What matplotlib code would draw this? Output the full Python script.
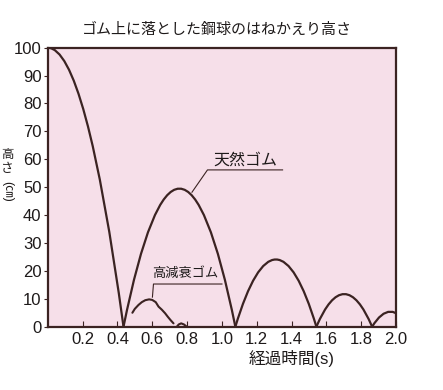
import numpy as np
import matplotlib.pyplot as plt
from matplotlib.path import Path
from matplotlib.patches import PathPatch

plt.rcParams['font.family'] = ['Liberation Sans', 'Noto Sans CJK JP', 'DejaVu Sans']

# natural rubber: drop from 100 cm, then bounces
drop_height = 100
nat_land = [0.435, 1.077, 1.542, 1.862, 2.072]   # landing times (s)
nat_peak = [49.5, 24.1, 11.7, 5.4]               # bounce heights (cm)

# high damping rubber (only a short bounce)
damp_t = [0.486, 0.50, 0.521, 0.54, 0.56, 0.582, 0.60, 0.62, 0.636, 0.655, 0.674, 0.69, 0.706, 0.722]
damp_h = [5.0, 6.4, 7.8, 8.8, 9.5, 9.8, 9.6, 8.8, 7.2, 6.1, 4.8, 3.5, 2.3, 1.2]
bump_t = [0.741, 0.752, 0.766, 0.782, 0.798]
bump_h = [0.0, 0.8, 1.2, 0.8, 0.0]

xticks = [0.2, 0.4, 0.6, 0.8, 1.0, 1.2, 1.4, 1.6, 1.8, 2.0]
yticks = list(range(0, 101, 10))

line_c = '#3b2322'
txt_c = '#1e1a1a'
bg = '#f6dfe9'

fig = plt.figure(figsize=(4.43, 3.90), dpi=100)
ax = fig.add_axes([0.1077, 0.1623, 0.7866, 0.7154])
ax.set_facecolor(bg)


def arc(ax, a, b, h=None, half=False):
    # quadratic bezier = parabola
    if half:
        verts = [(0, h), (b / 2, h), (b, 0)]
    else:
        verts = [(a, 0), ((a + b) / 2, 2 * h), (b, 0)]
    p = PathPatch(Path(verts, [Path.MOVETO, Path.CURVE3, Path.CURVE3]),
                  fill=False, ec=line_c, lw=1.6, transform=ax.transData,
                  clip_on=True, capstyle='round')
    ax.add_patch(p)


arc(ax, 0, nat_land[0], drop_height, half=True)
for i, h in enumerate(nat_peak):
    arc(ax, nat_land[i], nat_land[i + 1], h)

ax.plot(damp_t, damp_h, color=line_c, lw=1.5, solid_capstyle='round')
ax.plot(bump_t, bump_h, color=line_c, lw=1.5)

# labels with leader lines
ax.text(1.134, 59.7, '天然ゴム', fontsize=11.5, ha='center', va='center', color=txt_c)
ax.plot([0.828, 0.917, 1.348], [48.2, 56.2, 56.2], color=line_c, lw=0.8)
ax.text(0.79, 19.1, '高減衰ゴム', fontsize=9.5, ha='center', va='center', color=txt_c)
ax.plot([0.601, 0.607, 1.0], [10.6, 15.3, 15.3], color=line_c, lw=0.8)

ax.set_xlim(0, 2.0)
ax.set_ylim(0, 100)
ax.set_xticks(xticks)
ax.set_xticklabels([f'{v:.1f}' for v in xticks])
ax.set_yticks(yticks)
ax.tick_params(axis='x', direction='in', length=4, width=0.8, color=line_c,
               labelsize=12, pad=4, labelcolor=txt_c)
ax.tick_params(axis='y', direction='out', length=3, width=0.8, color=line_c,
               labelsize=12, pad=1.5, labelcolor=txt_c)
for s in ax.spines.values():
    s.set_color(line_c)
    s.set_linewidth(1.6)

fig.text(0.489, 0.923, 'ゴム上に落とした鋼球のはねかえり高さ', fontsize=10.8,
         ha='center', va='center', color=txt_c)
ax.text(1.4, -11.5, '経過時間(s)', fontsize=12, ha='center', va='center', color=txt_c)

# vertical y label at the left edge
fig.text(7 / 443, 1 - 155 / 390, '高', fontsize=9, ha='center', va='center', color=txt_c)
fig.text(7 / 443, 1 - 169 / 390, 'さ', fontsize=9, ha='center', va='center', color=txt_c)
fig.text(7 / 443, 1 - 191 / 390, '(㎝)', fontsize=9, ha='center', va='center',
         rotation=-90, color=txt_c)

fig.savefig('out.png', dpi=100)
